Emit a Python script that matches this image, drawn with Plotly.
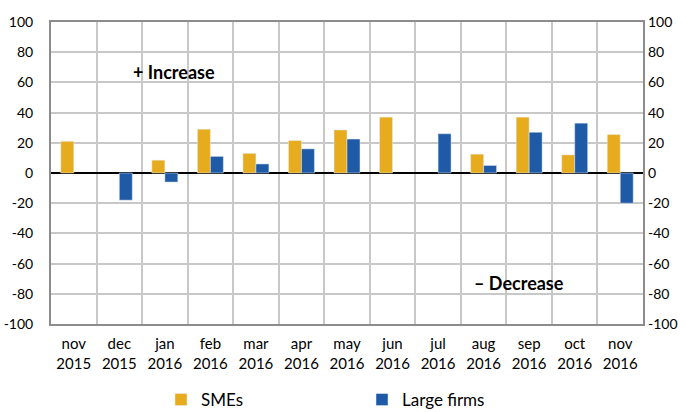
import plotly.graph_objects as go

categories = ["nov<br>2015", "dec<br>2015", "jan<br>2016", "feb<br>2016", "mar<br>2016", "apr<br>2016",
              "may<br>2016", "jun<br>2016", "jul<br>2016", "aug<br>2016", "sep<br>2016", "oct<br>2016", "nov<br>2016"]
smes = [21, None, 8.5, 29, 13, 21.5, 28.5, 37, None, 12.5, 37, 12, 25.5]
large = [None, -18, -6, 11, 6, 16, 22.5, None, 26, 5, 27, 33, -20]
ytick_vals = [-100, -80, -60, -40, -20, 0, 20, 40, 60, 80, 100]
ytick_text = ["-100", "-80", "-60", "-40", "-20", "0", "20", "40", "60", "80", "100"]

FONT = "Lato, Liberation Sans, sans-serif"
fig = go.Figure()
fig.add_trace(go.Bar(x=categories, y=smes, name="SMEs", marker=dict(color="#E6AC1E")))
fig.add_trace(go.Bar(x=categories, y=large, name="Large firms", marker=dict(color="#1F5AA6")))
fig.add_trace(go.Scatter(x=[categories[0]], y=[0], yaxis="y2", mode="lines",
                         line=dict(width=0), showlegend=False, hoverinfo="skip"))

fig.add_annotation(x=0.208, y=0.835, xref="paper", yref="paper", text="<b>+ Increase</b>",
                   xanchor="center", yanchor="middle",
                   showarrow=False, font=dict(size=18, color="black", family=FONT))
fig.add_annotation(x=0.79, y=0.137, xref="paper", yref="paper", text="<b>– Decrease</b>",
                   xanchor="center", yanchor="middle",
                   showarrow=False, font=dict(size=18, color="black", family=FONT))

fig.update_layout(
    width=686, height=412,
    margin=dict(l=51, r=43, t=22, b=88, autoexpand=False),
    plot_bgcolor="white", paper_bgcolor="white",
    barmode="group", bargap=0.43, bargroupgap=0,
    font=dict(family=FONT, size=14, color="black"),
    xaxis=dict(type="category", range=[-0.5, 12.5], tickson="boundaries", showgrid=True,
               gridcolor="#C8C8C8", gridwidth=2,
               ticks="", showline=True, linecolor="#8C8C8C", linewidth=2, mirror=True,
               tickfont=dict(size=15), automargin=False, ticklabelstandoff=5),
    yaxis=dict(range=[-100, 100], tickvals=ytick_vals, ticktext=ytick_text, showgrid=True,
               gridcolor="#C8C8C8", gridwidth=2,
               zeroline=True, zerolinecolor="black", zerolinewidth=1.5, ticks="",
               showline=True, linecolor="#8C8C8C", linewidth=2, mirror=True, tickfont=dict(size=14),
               automargin=False, ticklabelstandoff=13),
    yaxis2=dict(range=[-100, 100], tickvals=ytick_vals, ticktext=ytick_text, overlaying="y", side="right",
                showgrid=False, zeroline=False, ticks="", showline=False, tickfont=dict(size=14),
                automargin=False, ticklabelstandoff=4),
    legend=dict(orientation="h", xref="container", x=161 / 686, xanchor="left",
                y=-0.192, yanchor="top", itemwidth=30,
                font=dict(size=17), entrywidth=156, entrywidthmode="pixels"),
    showlegend=True,
)
fig.write_html("out.html", config={"displayModeBar": False},
               post_script="document.body.style.margin='0';document.body.style.overflow='hidden';")
